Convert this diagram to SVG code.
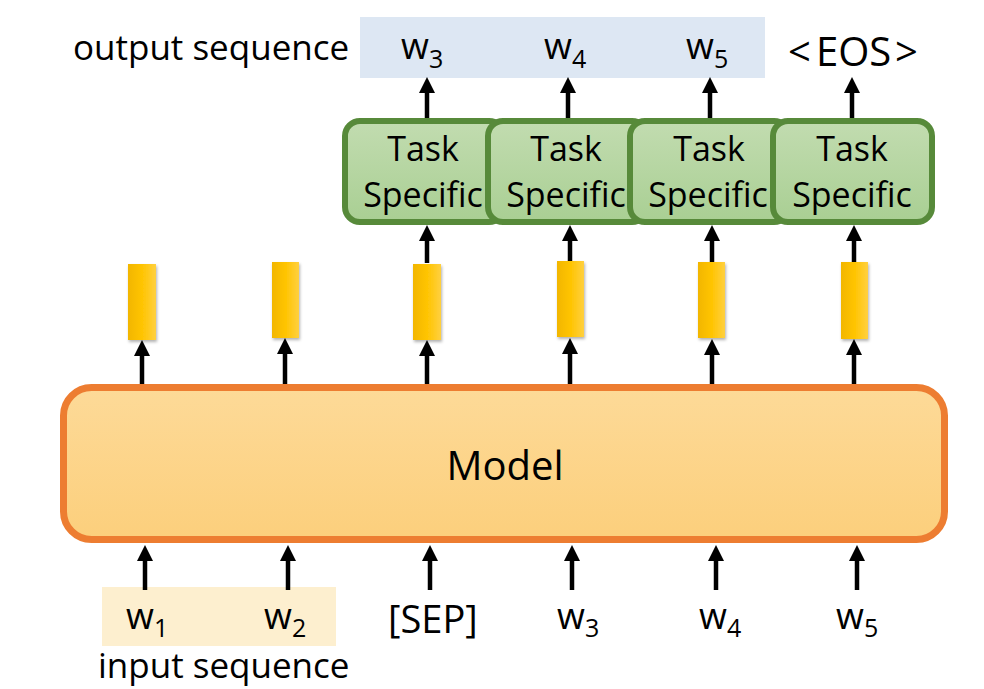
<svg xmlns="http://www.w3.org/2000/svg" width="984" height="689" viewBox="0 0 984 689">
<defs>
<linearGradient id="gModel" x1="0" y1="0" x2="0" y2="1"><stop offset="0" stop-color="#fdda98"/><stop offset="1" stop-color="#fccf7c"/></linearGradient>
<linearGradient id="gTask" x1="0" y1="0" x2="0" y2="1"><stop offset="0" stop-color="#c2dcb0"/><stop offset="1" stop-color="#a9cf93"/></linearGradient>
<linearGradient id="gBar" x1="0" y1="0" x2="1" y2="0"><stop offset="0" stop-color="#f2b600"/><stop offset="0.5" stop-color="#ffc400"/><stop offset="1" stop-color="#ffd040"/></linearGradient>
<filter id="sh" x="-30%" y="-10%" width="160%" height="130%"><feDropShadow dx="1" dy="2" stdDeviation="1.5" flood-color="#000" flood-opacity="0.3"/></filter>
<marker id="ah" markerUnits="userSpaceOnUse" markerWidth="16" markerHeight="16" viewBox="0 0 16 16" refX="5" refY="8" orient="auto"><path d="M0,0 L16,8 L0,16 z" fill="#000"/></marker>
</defs>
<style>
text{font-family:"Open Sans","Liberation Sans",sans-serif;fill:#000}
.lbl{font-size:35px}
.w{font-size:36px}
.sub{font-size:25px}
.task{fill:url(#gTask);stroke:#578a3a;stroke-width:6}
.tt{font-size:34px;text-anchor:middle}
.bar{fill:url(#gBar);filter:url(#sh)}
.arr{stroke:#000;stroke-width:4.5;fill:none;marker-end:url(#ah)}
</style>
<rect id="output-band" x="360" y="17" width="405" height="61" fill="#dde7f3"/>
<rect id="input-band" x="102" y="587" width="234" height="59" fill="#fdefcf"/>
<g id="output-labels">
<text class="lbl" x="73" y="60">output sequence</text>
<text class="w" x="401" y="59">w<tspan class="sub" dy="9">3</tspan></text>
<text class="w" x="544" y="59">w<tspan class="sub" dy="9">4</tspan></text>
<text class="w" x="686" y="59">w<tspan class="sub" dy="9">5</tspan></text>
<text style="font-size:40px" y="66"><tspan x="788">&lt;</tspan><tspan x="816">EOS</tspan><tspan x="895">&gt;</tspan></text>
</g>
<g id="connectors">
<line class="arr" x1="427" y1="118" x2="427" y2="88"/>
<line class="arr" x1="568" y1="118" x2="568" y2="88"/>
<line class="arr" x1="710" y1="118" x2="710" y2="88"/>
<line class="arr" x1="852" y1="118" x2="852" y2="88"/>
<line class="arr" x1="427" y1="263" x2="427" y2="236"/>
<line class="arr" x1="570" y1="262" x2="570" y2="236"/>
<line class="arr" x1="712" y1="262" x2="712" y2="236"/>
<line class="arr" x1="854" y1="262" x2="854" y2="236"/>
<line class="arr" x1="142" y1="386" x2="142" y2="351"/>
<line class="arr" x1="285" y1="386" x2="285" y2="349"/>
<line class="arr" x1="427" y1="386" x2="427" y2="351"/>
<line class="arr" x1="570" y1="386" x2="570" y2="349"/>
<line class="arr" x1="712" y1="386" x2="712" y2="350"/>
<line class="arr" x1="854" y1="386" x2="854" y2="350"/>
<line class="arr" x1="145" y1="590" x2="145" y2="556"/>
<line class="arr" x1="288" y1="590" x2="288" y2="556"/>
<line class="arr" x1="430" y1="590" x2="430" y2="556"/>
<line class="arr" x1="572" y1="590" x2="572" y2="556"/>
<line class="arr" x1="716" y1="590" x2="716" y2="556"/>
<line class="arr" x1="857" y1="590" x2="857" y2="556"/>
</g>
<g id="task1"><rect class="task" x="345" y="121" width="159" height="101" rx="15"/><text class="tt" x="423" y="161">Task</text><text class="tt" x="423" y="207">Specific</text></g>
<g id="task2"><rect class="task" x="488" y="121" width="159" height="101" rx="15"/><text class="tt" x="566" y="161">Task</text><text class="tt" x="566" y="207">Specific</text></g>
<g id="task3"><rect class="task" x="630" y="121" width="159" height="101" rx="15"/><text class="tt" x="709" y="161">Task</text><text class="tt" x="708" y="207">Specific</text></g>
<g id="task4"><rect class="task" x="773" y="121" width="159" height="101" rx="15"/><text class="tt" x="852" y="161">Task</text><text class="tt" x="852" y="207">Specific</text></g>
<g id="bars">
<rect class="bar" x="128" y="264" width="28" height="76"/>
<rect class="bar" x="272" y="262" width="27" height="76"/>
<rect class="bar" x="413" y="264" width="28" height="76"/>
<rect class="bar" x="557" y="261" width="27" height="76"/>
<rect class="bar" x="698" y="262" width="27" height="76"/>
<rect class="bar" x="841" y="262" width="27" height="77"/>
</g>
<g id="model"><rect x="63.5" y="387.5" width="881" height="152" rx="28" fill="url(#gModel)" stroke="#ed7d31" stroke-width="7"/><text x="505" y="480" style="font-size:40px;text-anchor:middle">Model</text></g>
<g id="input-labels">
<text class="w" x="126" y="629">w<tspan class="sub" dy="8">1</tspan></text>
<text class="w" x="264" y="629">w<tspan class="sub" dy="8">2</tspan></text>
<text style="font-size:38px" x="388" y="633">[SEP]</text>
<text class="w" x="557" y="629">w<tspan class="sub" dy="8">3</tspan></text>
<text class="w" x="699" y="629">w<tspan class="sub" dy="8">4</tspan></text>
<text class="w" x="836" y="629">w<tspan class="sub" dy="8">5</tspan></text>
<text class="lbl" x="98" y="678">input sequence</text>
</g>
</svg>
